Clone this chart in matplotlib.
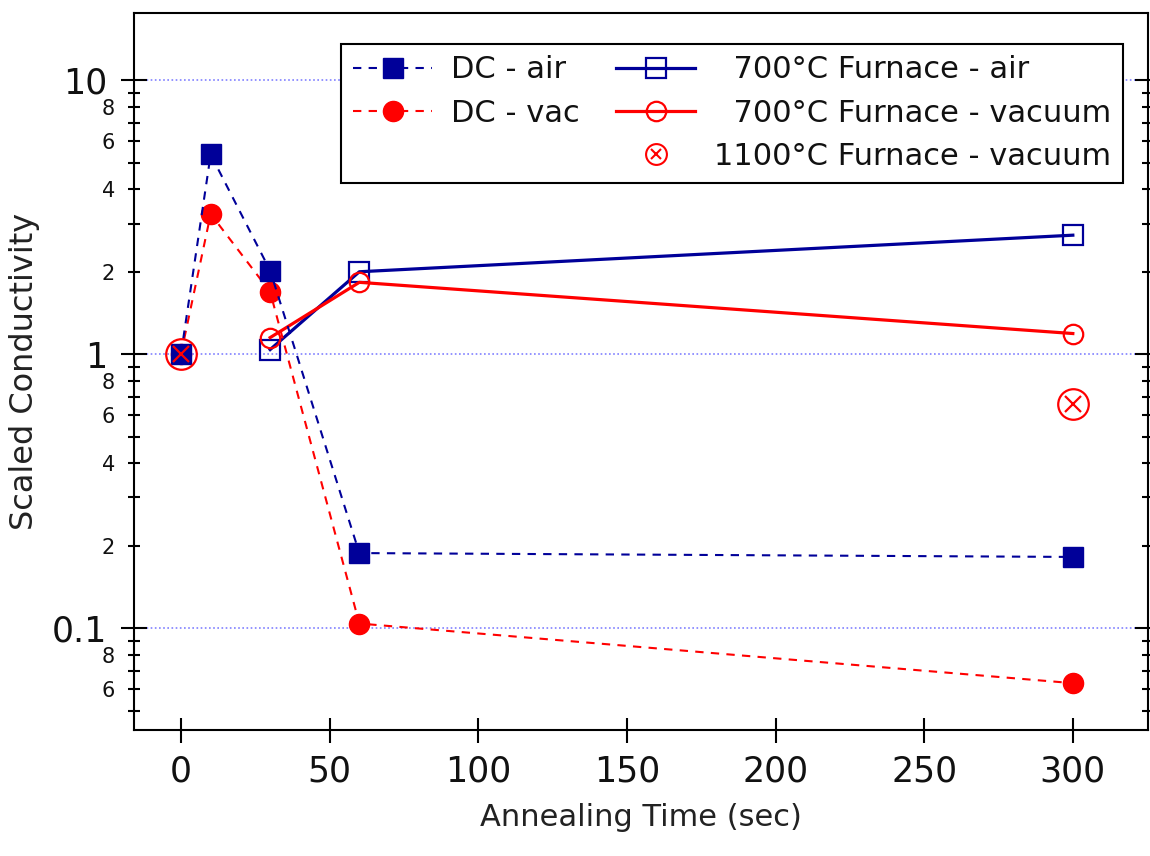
import matplotlib
matplotlib.use("Agg")
import matplotlib.pyplot as plt
from matplotlib.lines import Line2D
from matplotlib.ticker import FixedLocator, FuncFormatter
import numpy as np

# ---- data ----
time_dc = [0, 10, 30, 60, 300]
dc_air = [1.0, 5.36, 2.02, 0.188, 0.182]
dc_vac = [1.0, 3.25, 1.69, 0.104, 0.063]

time_furnace = [30, 60, 300]
furnace_air = [1.04, 2.0, 2.72]
furnace_vac = [1.15, 1.83, 1.19]

time_1100 = [0, 300]
furnace1100_vac = [1.0, 0.66]

x_ticks = [0, 50, 100, 150, 200, 250, 300]
labels = ["DC - air", "DC - vac", "  700°C Furnace - air",
          "  700°C Furnace - vacuum", "1100°C Furnace - vacuum"]

NAVY = "#000099"
RED = "#ff0000"

plt.rcParams['font.family'] = ['DejaVu Sans']

fig = plt.figure(figsize=(11.5, 8.56), dpi=100)
ax = fig.add_axes([0.1165, 0.1472, 0.8818, 0.8376])

ax.set_yscale('log')
ax.set_xlim(-15.8, 325.3)
ax.set_ylim(0.0425, 17.6)

# grid at decades
for v in [0.1, 1, 10]:
    ax.axhline(v, color="#8080ff", lw=1.2, ls=(0, (1, 1.5)), zorder=0)

dash = (0, (4, 3.5))
h_fair, = ax.plot(time_furnace, furnace_air, color=NAVY, lw=2.3, marker='s',
                  ms=14, mfc='none', mec=NAVY, mew=1.6, zorder=3)
h_fvac, = ax.plot(time_furnace, furnace_vac, color=RED, lw=2.3, marker='o',
                  ms=14, mfc='none', mec=RED, mew=1.6, zorder=3)
h_vac, = ax.plot(time_dc, dc_vac, color=RED, lw=1.5, ls=dash, marker='o',
                 ms=14.5, mfc=RED, mec=RED, zorder=4)
h_air, = ax.plot(time_dc, dc_air, color=NAVY, lw=1.5, ls=dash, marker='s',
                 ms=14, mfc=NAVY, mec=NAVY, zorder=5)
ax.plot(time_1100, furnace1100_vac, ls='none', marker='o', ms=22,
        mfc='none', mec=RED, mew=1.6, zorder=6)
ax.plot(time_1100, furnace1100_vac, ls='none', marker='x', ms=11,
        mec=RED, mew=1.6, zorder=6)

# legend proxies (smaller 1100 marker, as in the reference legend)
p_c = Line2D([], [], ls='none', marker='o', ms=15, mfc='none', mec=RED, mew=1.5)
p_x = Line2D([], [], ls='none', marker='x', ms=7.5, mec=RED, mew=1.5)
blank = Line2D([], [], ls='none', marker='none')
leg = ax.legend([h_air, h_vac, blank, h_fair, h_fvac, (p_c, p_x)],
                [labels[0], labels[1], '', labels[2], labels[3], labels[4]],
                ncol=2, loc='upper right', bbox_to_anchor=(0.975, 0.957),
                borderaxespad=0, fontsize=22, frameon=True, fancybox=False,
                edgecolor='black', framealpha=1, handlelength=2.6,
                handletextpad=0.6, columnspacing=1.2, borderpad=0.38,
                labelspacing=0.47)
leg.get_frame().set_linewidth(1.5)
for t in leg.get_texts():
    t.set_color('#111111')

# ticks
ax.xaxis.set_major_locator(FixedLocator(x_ticks))
ax.set_xticklabels([str(t) for t in x_ticks])
ax.tick_params(axis='x', which='major', direction='inout', length=18, width=1.5,
               labelsize=25, pad=9, top=False, labelcolor='#111111')
ax.tick_params(axis='x', which='minor', bottom=False, top=False)

major_y = [0.1, 1, 10]
minor_y = [m * d for d in [0.01, 0.1, 1] for m in range(2, 10)]
ax.yaxis.set_major_locator(FixedLocator(major_y))
ax.yaxis.set_minor_locator(FixedLocator(minor_y))
ax.yaxis.set_major_formatter(FuncFormatter(lambda v, p: {0.1: "0.1", 1: "1", 10: "10"}.get(v, "")))

def minor_fmt(v, p):
    lead = int(round(v / 10 ** np.floor(np.log10(v) + 1e-9)))
    return str(lead) if lead in (2, 4, 6, 8) else ""

ax.yaxis.set_minor_formatter(FuncFormatter(minor_fmt))
ax.tick_params(axis='y', which='major', direction='inout', length=19, width=1.5,
               labelsize=25, pad=10, right=True, labelcolor='#111111')
ax.tick_params(axis='y', which='minor', direction='inout', length=9, width=1.5,
               labelsize=15, pad=9, right=True, labelcolor='#111111')

for s in ax.spines.values():
    s.set_linewidth(1.5)

ax.set_xlabel("Annealing Time (sec)", fontsize=22, color='#222222', labelpad=10)
ax.set_ylabel("Scaled Conductivity", fontsize=23, color='#222222', labelpad=8)

fig.savefig("out.png", dpi=100)
